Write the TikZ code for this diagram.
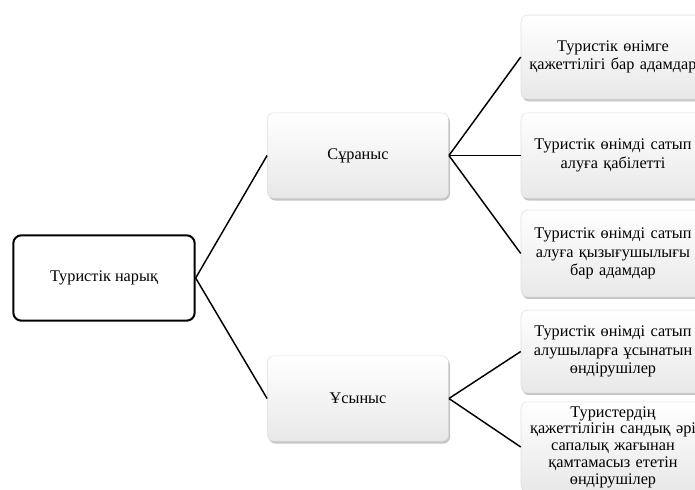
\documentclass[tikz,border=0pt]{standalone}
\usepackage{fontspec}
\setmainfont{Liberation Serif}
\usetikzlibrary{positioning,shadows}

\begin{document}
\begin{tikzpicture}[x=0.75pt, y=-0.75pt, font=\fontsize{12.2}{13.8}\selectfont,
  market/.style={draw, line width=1.5pt, rounded corners=6pt, fill=white,
    minimum width=136pt, minimum height=64pt},
  side/.style={draw=gray!25, rounded corners=5pt, top color=white, bottom color=gray!18,
    drop shadow={shadow xshift=1pt, shadow yshift=-1.8pt, opacity=0.45},
    minimum width=136pt, minimum height=64pt},
  item/.style={side, minimum width=138pt, text width=130pt, align=center},
  link/.style={line width=1.1pt}]
  \useasboundingbox (0,0) rectangle (695,489);
  % left and middle
  \node[market] (market) at (104,278) {Туристік нарық};
  \node[side] (demand) at (358,155.5) {Сұраныс};
  \node[side] (supply) at (358,398.5) {Ұсыныс};
  % demand items
  \node[item, minimum height=63pt] (d1) at (613,57) {Туристік өнімге\\қажеттілігі бар адамдар};
  \node[item] (d2) at (613,155.5) {Туристік өнімді сатып\\алуға қабілетті};
  \node[item, minimum height=65pt] (d3) at (613,253.5) {Туристік өнімді сатып\\алуға қызығушылығы\\бар адамдар};
  % supply items
  \node[item, minimum height=62pt] (s1) at (613,351.5) {Туристік өнімді сатып\\алушыларға ұсынатын\\өндірушілер};
  \node[item, minimum height=66pt, font=\fontsize{12.2}{12.6}\selectfont] (s2) at (613,447)
    {Туристердің\\қажеттілігін сандық әрі\\сапалық жағынан\\қамтамасыз ететін\\өндірушілер};
  \foreach \n in {demand,supply}
    \draw[link] (market.east) -- (\n.west);
  \foreach \n in {d1,d2,d3}
    \draw[link] (demand.east) -- (\n.west);
  \foreach \n in {s1,s2}
    \draw[link] (supply.east) -- (\n.west);
\end{tikzpicture}
\end{document}
